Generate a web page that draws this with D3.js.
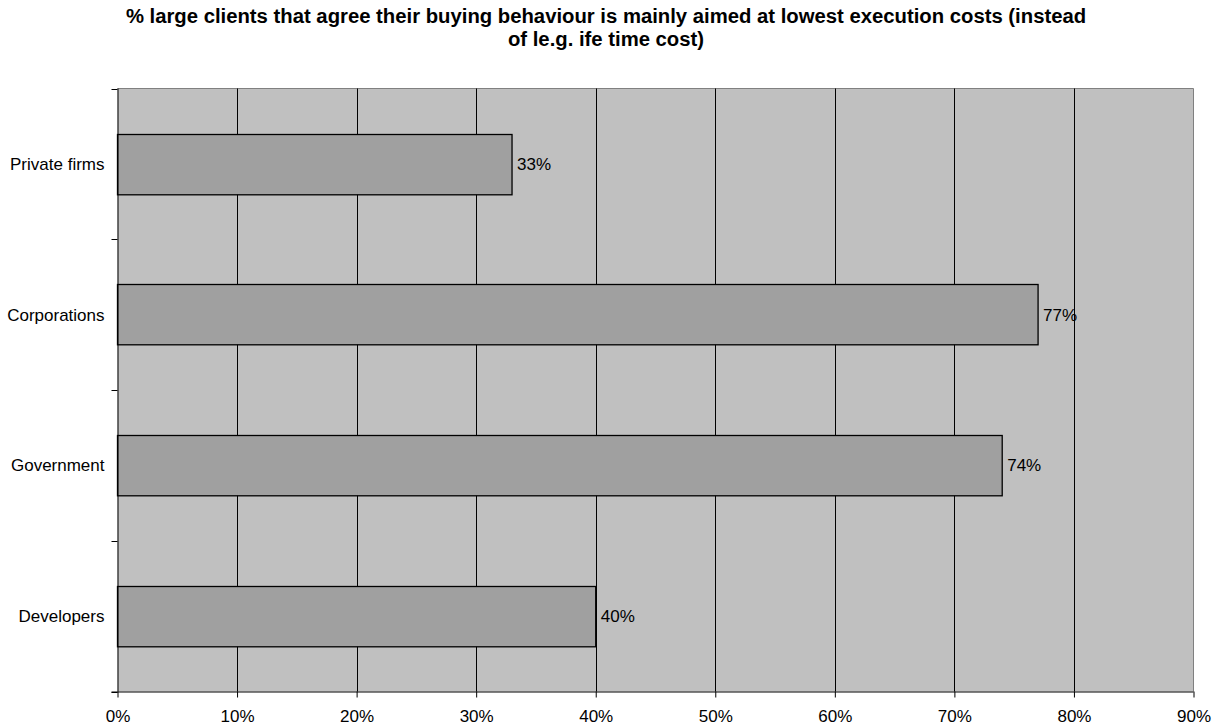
<!DOCTYPE html>
<html><head><meta charset="utf-8">
<script src="https://cdn.jsdelivr.net/npm/d3@7"></script>
<style>body{margin:0;background:#fff}svg{display:block}text{font-family:"Liberation Sans",Arial,sans-serif}</style>
</head><body>
<script>
const categories = ["Private firms","Corporations","Government","Developers"];
const values = [0.33,0.77,0.74,0.40];
const ticks = [0,0.1,0.2,0.3,0.4,0.5,0.6,0.7,0.8,0.9];
const titleLines = ["% large clients that agree their buying behaviour is mainly aimed at lowest execution costs (instead","of le.g. ife time cost)"];

const W=1221,H=727;
const L=117.5,R=1193.5,T=88.5,B=691.5;
const svg=d3.select("body").append("svg").attr("width",W).attr("height",H);
const x=d3.scaleLinear().domain([0,0.9]).range([L,R]);
const y=d3.scaleBand().domain(categories).range([T,B]).paddingInner(0.6).paddingOuter(0.3);
const yb=d3.scaleBand().domain(categories).range([T,B]);

svg.append("rect").attr("x",L).attr("y",T).attr("width",R-L).attr("height",B-T).attr("fill","#c0c0c0");
svg.append("line").attr("x1",L).attr("x2",R).attr("y1",T).attr("y2",T).attr("stroke","#808080");
svg.append("line").attr("x1",R).attr("x2",R).attr("y1",T).attr("y2",B).attr("stroke","#808080");
svg.selectAll("line.grid").data(ticks.slice(1,-1)).enter().append("line")
  .attr("x1",d=>Math.round(x(d))+0.5).attr("x2",d=>Math.round(x(d))+0.5).attr("y1",T).attr("y2",B)
  .attr("stroke","#000").attr("stroke-width",1);

svg.selectAll("rect.bar").data(values).enter().append("rect")
  .attr("x",L).attr("y",(d,i)=>Math.round(y(categories[i]))+0.5)
  .attr("width",d=>x(d)-L).attr("height",y.bandwidth())
  .attr("fill","#a0a0a0").attr("stroke","#000").attr("stroke-width",1.3);

svg.selectAll("text.lbl").data(values).enter().append("text")
  .attr("x",d=>x(d)+5).attr("y",(d,i)=>y(categories[i])+y.bandwidth()/2).attr("dy","0.35em")
  .attr("font-size",17).text(d=>Math.round(d*100)+"%");

// axes
const xa=svg.append("g").attr("transform",`translate(0,${B})`)
  .call(d3.axisBottom(x).tickValues(ticks).tickFormat(d3.format(".0%")).tickSize(6).tickSizeOuter(0));
xa.select(".domain").attr("stroke","#000").attr("d",`M${L-6},0.5H${R}`);
xa.selectAll(".tick line").attr("stroke","#000");
xa.selectAll(".tick text").attr("font-size",17).attr("fill","#000").attr("y",18).attr("dy","0.71em").style("font-family","Liberation Sans, Arial, sans-serif");

const ya=svg.append("g").attr("transform",`translate(${L},0)`);
ya.append("line").attr("x1",0.5).attr("x2",0.5).attr("y1",T).attr("y2",B).attr("stroke","#000");
const ytick=[T,...categories.map(c=>yb(c)+yb.bandwidth())];
ya.selectAll("line.t").data(ytick).enter().append("line").attr("x1",-6).attr("x2",0)
  .attr("y1",d=>Math.round(d)+0.5).attr("y2",d=>Math.round(d)+0.5).attr("stroke","#000");
ya.selectAll("text").data(categories).enter().append("text")
  .attr("x",-13).attr("y",d=>y(d)+y.bandwidth()/2).attr("dy","0.35em").attr("text-anchor","end")
  .attr("font-size",17).text(d=>d);

svg.selectAll("text.title").data(titleLines).enter().append("text")
  .attr("x",606).attr("y",(d,i)=>22.7+i*23.5).attr("text-anchor","middle")
  .attr("font-size",20.3).attr("font-weight","bold").text(d=>d);
</script>
</body></html>
